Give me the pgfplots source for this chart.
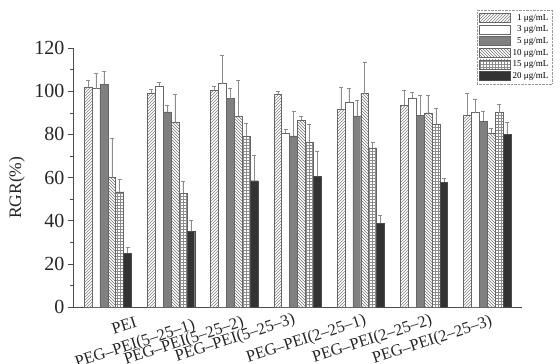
\documentclass[border=0pt]{standalone}
\usepackage{fontspec}
\setmainfont{Liberation Serif}
\usepackage{pgfplots}
\pgfplotsset{compat=1.18}
\usepackage{pgfplotstable}
\usetikzlibrary{patterns}

\pgfplotstableread{
x y e
0 102.0 3
1 99.2 1.5
2 100.5 2
3 98.6 1.5
4 91.7 10
5 93.5 7
6 88.9 10
}\cA
\pgfplotstableread{
x y e
0 101.2 7
1 102.3 2
2 103.5 13
3 80.4 2
4 94.8 6.5
5 96.9 2.5
6 90.1 6
}\cB
\pgfplotstableread{
x y e
0 103.2 6
1 90.4 3
2 96.6 5
3 79.3 11.5
4 88.6 7
5 88.9 9
6 86.1 4.5
}\cC
\pgfplotstableread{
x y e
0 60.3 18
1 85.5 13
2 88.4 16.5
3 86.6 2
4 98.9 14.5
5 90.0 8
6 80.7 2
}\cD
\pgfplotstableread{
x y e
0 53.4 6
1 52.6 5.5
2 79.3 6
3 76.5 8
4 73.8 2.7
5 84.7 7.5
6 90.1 4
}\cE
\pgfplotstableread{
x y e
0 24.8 3
1 35.2 5
2 58.5 12
3 60.6 11.5
4 38.7 4
5 57.7 2
6 80.0 5.5
}\cF

\begin{document}
\begin{tikzpicture}
\begin{axis}[name=ax, scale only axis, width=449pt, height=259pt,
  clip=false,
  xmin=-0.55, xmax=6.55, ymin=0, ymax=120,
  axis x line*=bottom, axis y line*=left,
  ytick={0,20,...,120}, minor y tick num=1,
  xtick=\empty,
  tick align=outside, major tick length=5pt, minor tick length=3pt,
  tick style={black!70, thin},
  axis line style={black!70, thin},
  yticklabel style={font=\fontsize{20}{20}\selectfont, text=black!85},
  /pgf/number format/assume math mode=true,
  ylabel={RGR(\%)},
  ylabel style={at={(axis description cs:-0.125,0.46)}, anchor=center, font=\fontsize{17.5}{18}\selectfont, text=black!85},
  ybar=0pt, bar width=0.125,
  error bars/y dir=plus, error bars/y explicit,
  error bars/error bar style={black!45, thin},
  error bars/error mark options={rotate=90, mark size=2pt, black!45, thin},
  legend style={at={(0.9,1.147)}, anchor=north west, draw=black!40, densely dotted,
    font=\fontsize{9}{10}\selectfont, row sep=0.2pt, inner sep=2pt,
    /tikz/every even column/.append style={column sep=6pt}},
  legend cell align=right,
  legend image code/.code={\draw[#1, solid] (0pt,-4.5pt) rectangle (31pt,4.5pt);},
]
\addplot[draw=black!60, solid, pattern=north east lines, pattern color=black!50, bar shift=-0.3125] table[x=x,y=y,y error=e]{\cA};
\addlegendentry{1 μg/mL}
\addplot[draw=black!60, solid, fill=white, bar shift=-0.1875] table[x=x,y=y,y error=e]{\cB};
\addlegendentry{3 μg/mL}
\addplot[draw=black!60, solid, fill=black!50, bar shift=-0.0625] table[x=x,y=y,y error=e]{\cC};
\addlegendentry{5 μg/mL}
\addplot[draw=black!60, solid, pattern=north west lines, pattern color=black!55, bar shift=0.0625] table[x=x,y=y,y error=e]{\cD};
\addlegendentry{10 μg/mL}
\addplot[draw=black!60, solid, pattern=grid, pattern color=black!45, bar shift=0.1875] table[x=x,y=y,y error=e]{\cE};
\addlegendentry{15 μg/mL}
\addplot[draw=black!70, solid, fill=black!80, bar shift=0.3125] table[x=x,y=y,y error=e]{\cF};
\addlegendentry{20 μg/mL}

\begin{scope}[every node/.style={rotate=18, anchor=north east, inner sep=0pt, font=\fontsize{16.5}{17}\selectfont, text=black!85}]
\node at ([xshift=26.5pt,yshift=-9pt]axis cs:0,0) {PEI};
\node at ([xshift=21.3pt,yshift=-11pt]axis cs:1,0) {PEG–PEI(5–25–1)};
\node at ([xshift=6.9pt,yshift=-8pt]axis cs:2,0) {PEG–PEI(5–25–2)};
\node at ([xshift=-5.1pt,yshift=-5pt]axis cs:3,0) {PEG–PEI(5–25–3)};
\node at ([xshift=2.7pt,yshift=-6pt]axis cs:4,0) {PEG–PEI(2–25–1)};
\node at ([xshift=5.5pt,yshift=-6pt]axis cs:5,0) {PEG–PEI(2–25–2)};
\node at ([xshift=2.3pt,yshift=-7pt]axis cs:6,0) {PEG–PEI(2–25–3)};
\end{scope}
\end{axis}
\pgfresetboundingbox
\path[use as bounding box] ([xshift=-73pt,yshift=-57pt]ax.south west) rectangle ++(560pt,364pt);
\end{tikzpicture}
\end{document}
